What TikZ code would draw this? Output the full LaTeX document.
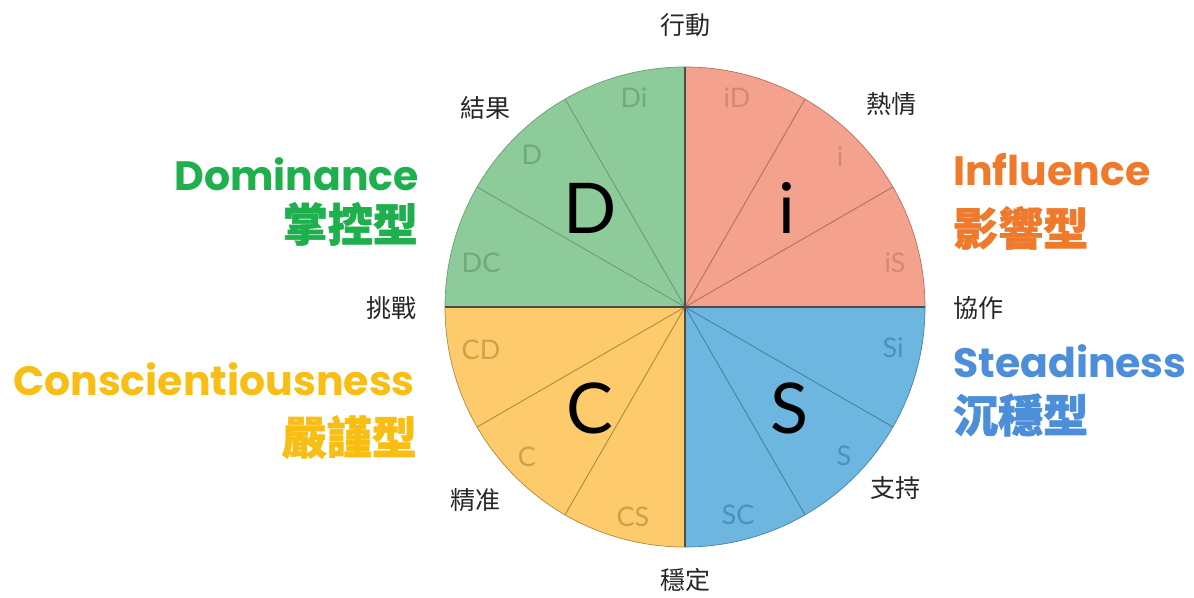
\documentclass[tikz,border=0pt]{standalone}
\usepackage{fontspec}
\newfontfamily\cjk{Noto Sans CJK TC}
\newfontfamily\cjkheavy{Noto Sans CJK TC}[BoldFeatures={FakeBold=1.3}]
\newfontfamily\titlefont{Poppins}
\newfontfamily\lightfont{Lato}
\definecolor{dfill}{HTML}{8DCB9A}\definecolor{dline}{HTML}{6A9E76}\definecolor{dlab}{HTML}{6EAA7D}
\definecolor{ifill}{HTML}{F4A28E}\definecolor{iline}{HTML}{B27060}\definecolor{ilab}{HTML}{D78773}
\definecolor{cfill}{HTML}{FDCB6B}\definecolor{cline}{HTML}{AE8A3E}\definecolor{clab}{HTML}{CDA04B}
\definecolor{sfill}{HTML}{6DB6E0}\definecolor{sline}{HTML}{4880A8}\definecolor{slab}{HTML}{4B91BE}
\definecolor{dtitle}{HTML}{1FB04E}\definecolor{ititle}{HTML}{F07A2C}
\definecolor{ctitle}{HTML}{F8BE14}\definecolor{stitle}{HTML}{4C8ED8}
\begin{document}
\begin{tikzpicture}[x=1pt,y=-1pt,
  sub/.style={font=\lightfont\fontsize{27}{27}\selectfont, inner sep=0pt},
  big/.style={font=\lightfont\fontsize{70}{70}\selectfont, inner sep=0pt, text=black},
  axis/.style={font=\cjk\fontsize{25}{25}\selectfont, inner sep=0pt, text=black!85},
  title/.style={font=\titlefont\bfseries\fontsize{41}{41}\selectfont, inner sep=0pt},
  ctit/.style={font=\cjkheavy\bfseries\fontsize{45}{45}\selectfont, inner sep=0pt},
  divider/.style={line width=0.9pt},
  cross/.style={line width=1.4pt, draw=black!70}]
\useasboundingbox (0,0) rectangle (1194,597);
\fill[white] (0,0) rectangle (1194,597);
\coordinate (c) at (685,307);
% quadrants
\filldraw[fill=dfill, draw=dline, line width=0.7pt] (c) -- ++(-90:240) arc[start angle=-90, end angle=-180, radius=240] -- cycle;
\filldraw[fill=ifill, draw=iline, line width=0.7pt] (c) -- ++(0:240) arc[start angle=0, end angle=-90, radius=240] -- cycle;
\filldraw[fill=sfill, draw=sline, line width=0.7pt] (c) -- ++(0:240) arc[start angle=0, end angle=90, radius=240] -- cycle;
\filldraw[fill=cfill, draw=cline, line width=0.7pt] (c) -- ++(90:240) arc[start angle=90, end angle=180, radius=240] -- cycle;
% dividers
\draw[divider, dline] (c) -- ++(-120:240) (c) -- ++(-150:240);
\draw[divider, iline] (c) -- ++(-60:240) (c) -- ++(-30:240);
\draw[divider, sline] (c) -- ++(30:240) (c) -- ++(60:240);
\draw[divider, cline] (c) -- ++(120:240) (c) -- ++(150:240);
% cross
\draw[cross] (c) -- ++(0,-240) (c) -- ++(0,240) (c) -- ++(-240,0) (c) -- ++(240,0);
% sub labels
\node[sub, text=dlab] (di) at (634,98) {Di};
\node[sub, text=dlab] (dd) at (532,155) {D};
\node[sub, text=dlab] (dc) at (481,263) {DC};
\node[sub, text=ilab] (id) at (737,98) {iD};
\node[sub, text=ilab] (ii) at (840,157) {i};
\node[sub, text=ilab] (is) at (895,263) {iS};
\node[sub, text=clab] (cd) at (481,350) {CD};
\node[sub, text=clab] (cc) at (527,457) {C};
\node[sub, text=clab] (cs) at (633,517) {CS};
\node[sub, text=slab] (si) at (893,348) {Si};
\node[sub, text=slab] (ss) at (844,456) {S};
\node[sub, text=slab] (sc) at (738,515) {SC};
% big letters
\node[big] (bD) at (590,208) {D};
\node[big] (bi) at (787,208) {i};
\node[big] (bC) at (590,408) {C};
\node[big] (bS) at (789,408) {S};
% axis words
\node[axis] (a1) at (685,25) {行動};
\node[axis] (a2) at (891,104) {熱情};
\node[axis] (a3) at (978,308) {協作};
\node[axis] (a4) at (895,488) {支持};
\node[axis] (a5) at (685,580) {穩定};
\node[axis] (a6) at (475,500) {精准};
\node[axis] (a7) at (391,308) {挑戰};
\node[axis] (a8) at (485,108) {結果};
% titles
\node[title, text=dtitle, anchor=base east] (tD) at (419,190) {Dominance};
\node[ctit, text=dtitle, anchor=east] (tD2) at (418,224) {掌控型};
\node[title, text=ititle, anchor=base west] (tI) at (953,185) {Influence};
\node[ctit, text=ititle, anchor=west] (tI2) at (953,228) {影響型};
\node[title, text=ctitle, anchor=base east] (tC) at (415,395) {Conscientiousness};
\node[ctit, text=ctitle, anchor=east] (tC2) at (417,437) {嚴謹型};
\node[title, text=stitle, anchor=base west] (tS) at (953,377) {Steadiness};
\node[ctit, text=stitle, anchor=west] (tS2) at (953,415) {沉穩型};
\end{tikzpicture}
\end{document}
